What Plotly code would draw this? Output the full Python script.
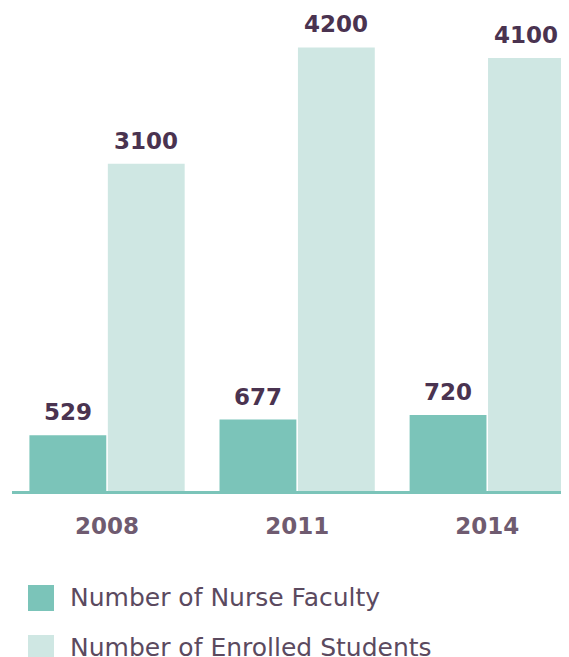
import plotly.graph_objects as go

years = ['2008', '2011', '2014']
faculty = [529, 677, 720]
students = [3100, 4200, 4100]

FACULTY_COLOR = '#7bc4b9'
STUDENT_COLOR = '#cfe7e3'
VALUE_COLOR = '#4a3350'

# figure geometry in pixels (the page puts the figure 8px in from the corner)
WIDTH, HEIGHT = 561, 670
LEFT, BOTTOM = 4, 187
PLOT_W = WIDTH - LEFT
PLOT_H = HEIGHT - BOTTOM

x = list(range(len(years)))
offset = (1 - 0.175) / 4  # centre of each bar inside its group

fig = go.Figure()

# draw bars
fig.add_trace(go.Bar(
    x=x, y=faculty,
    name='Number of Nurse Faculty',
    marker=dict(color=FACULTY_COLOR, line_width=0),
    hoverinfo='y'
))
fig.add_trace(go.Bar(
    x=x, y=students,
    name='Number of Enrolled Students',
    marker=dict(color=STUDENT_COLOR, line_width=0),
    hoverinfo='y'
))

# value labels above the bars
for i in x:
    for dx, val in ((-offset, faculty[i]), (offset, students[i])):
        fig.add_annotation(
            x=i + dx, y=val, text=f'{val}',
            showarrow=False, yanchor='bottom', yshift=8,
            font=dict(family='DejaVu Sans', size=23, color=VALUE_COLOR, weight='bold')
        )

# legend drawn by hand so the swatches can be big
legend_items = [
    ('Number of Nurse Faculty', FACULTY_COLOR, 577),
    ('Number of Enrolled Students', STUDENT_COLOR, 627),
]
for label, color, top in legend_items:
    fig.add_shape(
        type='rect', xref='paper', yref='paper',
        x0=(20 - LEFT) / PLOT_W, x1=(46 - LEFT) / PLOT_W,
        y0=(PLOT_H - top - 26) / PLOT_H, y1=(PLOT_H - top) / PLOT_H,
        fillcolor=color, line_width=0
    )
    fig.add_annotation(
        xref='paper', yref='paper',
        x=(60 - LEFT) / PLOT_W, y=(PLOT_H - top - 12) / PLOT_H,
        xanchor='left', yanchor='middle', showarrow=False,
        text=label,
        font=dict(family='DejaVu Sans', size=25, color='#5b4a5f')
    )

# the rest
fig.update_layout(
    width=WIDTH, height=HEIGHT,
    barmode='group',
    bargap=0.175,
    bargroupgap=0.02,
    showlegend=False,
    margin=dict(l=LEFT, r=0, t=0, b=BOTTOM),
    plot_bgcolor='white',
    paper_bgcolor='white',
    xaxis=dict(
        tickvals=x, ticktext=years,
        range=[-0.5, 2.43],
        showgrid=False, zeroline=False,
        showline=True, linecolor=FACULTY_COLOR, linewidth=3,
        ticks='', ticklabelstandoff=12,
        tickfont=dict(family='DejaVu Sans', size=23, color='#6f5b70', weight='bold')
    ),
    yaxis=dict(range=[0, 4574], visible=False)
)

fig.write_html('out.html')
